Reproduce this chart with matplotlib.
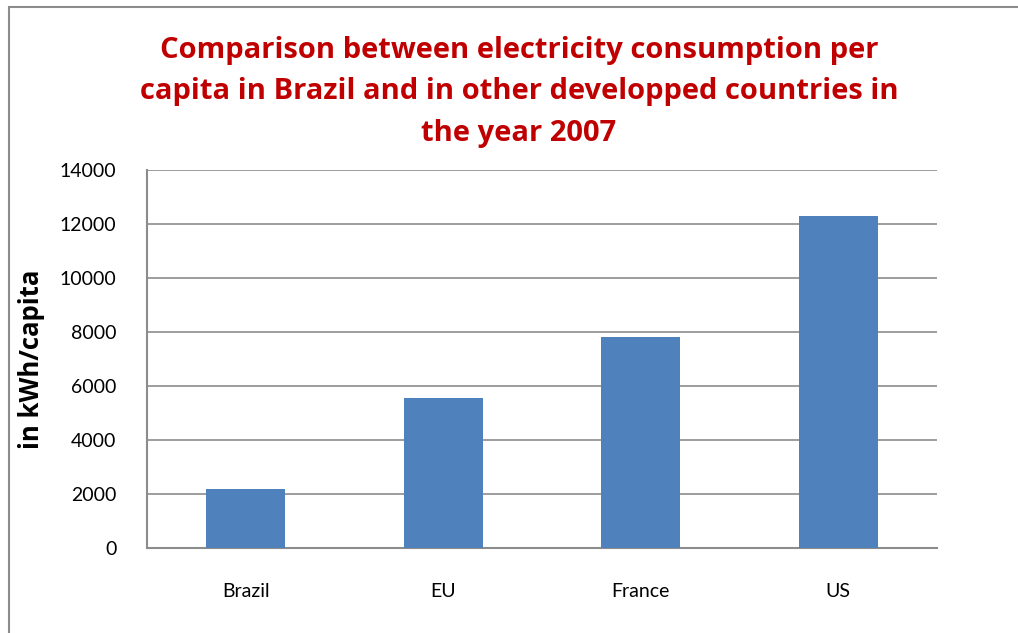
import matplotlib.pyplot as plt
from matplotlib.patches import Rectangle

countries = ['Brazil', 'EU', 'France', 'US']
kwh_per_capita = [2190, 5540, 7820, 12300]
yticks = [0, 2000, 4000, 6000, 8000, 10000, 12000, 14000]

plt.rcParams['font.family'] = ['Lato', 'DejaVu Sans']

fig = plt.figure(figsize=(10.18, 6.33), dpi=100)
ax = fig.add_axes([147/1018, 1-548/633, (937-147)/1018, (548-170)/633])

ax.bar(range(len(countries)), kwh_per_capita, width=0.4, color='#4F81BD', zorder=3)
ax.set_xlim(-0.5, len(countries) - 0.5)
ax.set_ylim(0, 14000)
ax.set_yticks(yticks)
ax.set_xticks(range(len(countries)))
ax.set_xticklabels(countries)
ax.tick_params(axis='both', length=0, labelsize=14, colors='black')
ax.tick_params(axis='y', pad=22)
ax.tick_params(axis='x', pad=25)
ax.grid(axis='y', color='#8C8C8C', linewidth=1.2, zorder=0)
for s in ['top', 'right']:
    ax.spines[s].set_visible(False)
for s in ['left', 'bottom']:
    ax.spines[s].set_color('#8C8C8C')
    ax.spines[s].set_linewidth(1.5)

bold = ['Open Sans', 'DejaVu Sans']
ax.set_ylabel('in kWh/capita', fontsize=18.5, fontweight='bold', family=bold)
ax.yaxis.set_label_coords(-(147-45)/790, 0.5)

fig.text(519/1018, 1-92/633,
         'Comparison between electricity consumption per\n'
         'capita in Brazil and in other developped countries in\n'
         'the year 2007',
         ha='center', va='center', fontsize=21, fontweight='bold',
         family=bold, color='#C00000', linespacing=1.55)

# chart area border
fig.patches.append(Rectangle((9/1018, -0.1), 1.2, 1 - 7/633 + 0.1,
                             transform=fig.transFigure, fill=False,
                             edgecolor='#8C8C8C', linewidth=1.5))

fig.savefig('out.png', dpi=100)
